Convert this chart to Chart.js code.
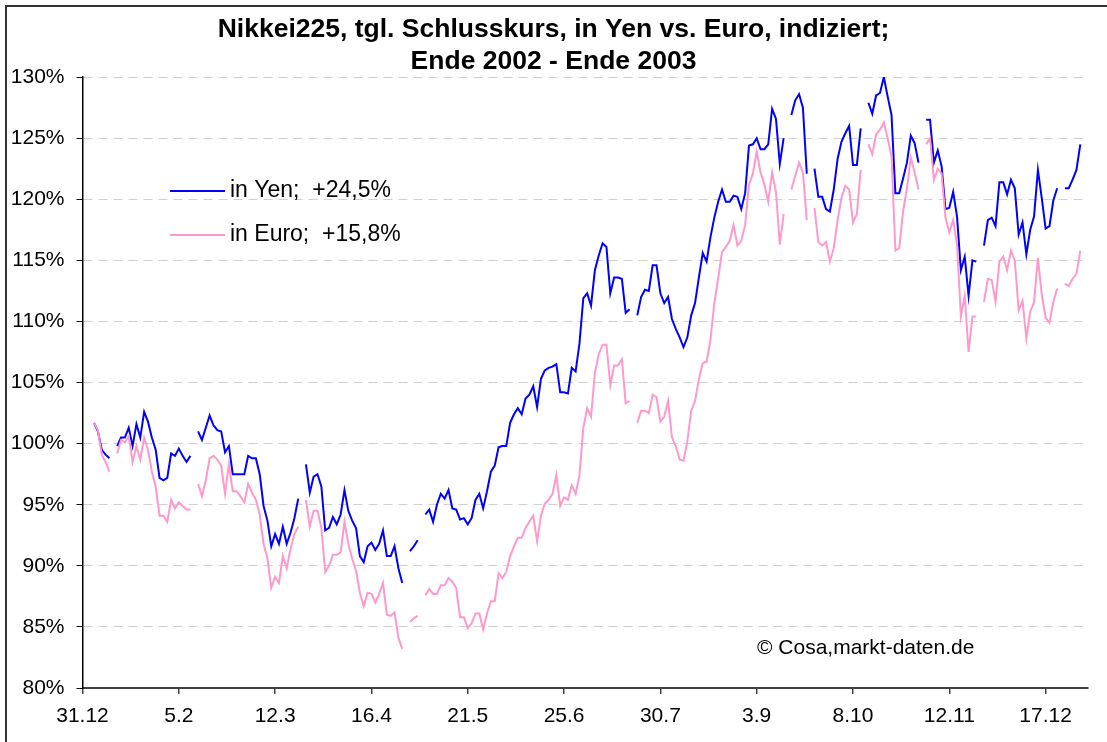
<!DOCTYPE html>
<html>
<head>
<meta charset="utf-8">
<title>Nikkei225 Yen vs. Euro</title>
<script src="https://cdn.jsdelivr.net/npm/chart.js@4.4.0/dist/chart.umd.min.js"></script>
<style>
  html, body { margin: 0; padding: 0; background: #fff; }
  canvas { display: block; }
</style>
</head>
<body>
<canvas id="nikkeiChart" width="1107" height="742"></canvas>
<script>
// x-axis: one category per trading-day slot (31.12.2002 = 0), label every 25 slots
const tickLabels = ['31.12', '5.2', '12.3', '16.4', '21.5', '25.6', '30.7', '3.9', '8.10', '12.11', '17.12'];
const tickStep = 25;
const slotCount = 261;

// Nikkei225 indexed, in Yen (null = no quote / holiday)
const yen = [
  null, null, null, 101.7, 101.0, 99.5, 99.1, 98.8, null, 99.8,
  100.5, 100.5, 101.3, 99.8, 101.6, 100.5, 102.6, 101.8, 100.5, 99.5,
  97.2, 97.0, 97.2, 99.2, 99.0, 99.6, 99.0, 98.5, 99.0, null,
  101.0, 100.3, 101.3, 102.3, 101.5, 101.1, 101.0, 99.3, 99.8, 97.5,
  97.5, 97.5, 97.5, 99.0, 98.8, 98.8, 97.5, 94.9, 93.7, 91.6,
  92.6, 91.8, 93.2, 91.8, 92.7, 93.9, 95.5, null, 98.3, 96.0,
  97.3, 97.5, 96.5, 92.9, 93.1, 94.0, 93.4, 94.2, 96.2, 94.5,
  93.7, 93.1, 90.8, 90.3, 91.6, 91.9, 91.3, 91.8, 92.9, 90.8,
  90.8, 91.6, 89.8, 88.6, null, 91.2, 91.6, 92.1, null, 94.2,
  94.6, 93.6, 95.0, 95.9, 95.5, 96.2, 94.7, 94.6, 93.8, 93.9,
  93.4, 93.9, 95.4, 95.9, 94.7, 96.1, 97.7, 98.2, 99.7, 99.8,
  99.8, 101.7, 102.4, 102.9, 102.4, 103.7, 104.0, 104.7, 103.0, 105.3,
  106.0, 106.2, 106.3, 106.5, 104.2, 104.2, 104.1, 106.2, 105.9, 108.2,
  111.9, 112.3, 111.3, 114.2, 115.4, 116.4, 116.1, 112.3, 113.6, 113.6,
  113.5, 110.7, 111.0, null, 110.5, 112.0, 112.6, 112.5, 114.6, 114.6,
  112.3, 111.5, 112.0, 110.2, 109.4, 108.7, 107.9, 108.7, 110.5, 111.5,
  113.6, 115.6, 114.9, 116.9, 118.5, 119.8, 120.8, 119.8, 119.8, 120.3,
  120.2, 119.2, 120.5, 124.4, 124.5, 125.0, 124.1, 124.1, 124.5, 127.4,
  126.6, 122.9, 125.0, null, 126.9, 128.1, 128.6, 127.5, 122.1, null,
  122.5, 120.2, 120.2, 119.2, 119.0, 120.8, 123.3, 124.7, 125.4, 126.0,
  122.8, 122.8, 125.8, null, 127.9, 127.0, 128.5, 128.7, 130.0, 128.4,
  126.9, 120.5, 120.5, 121.7, 123.0, 125.2, 124.6, 123.0, null, 126.5,
  126.5, 123.0, 124.0, 122.7, 119.2, 119.3, 120.6, 118.6, 114.2, 115.3,
  112.1, 115.0, 114.9, null, 116.2, 118.3, 118.5, 117.8, 121.4, 121.4,
  120.4, 121.6, 120.9, 117.1, 118.1, 115.5, 117.5, 118.6, 122.4, 120.1,
  117.6, 117.8, 119.9, 120.9, null, 120.9, 120.9, 121.6, 122.4, 124.5,
  null
];

// Nikkei225 indexed, in Euro
const euro = [
  null, null, null, 101.7, 101.1, 99.1, 98.5, 97.7, null, 99.2,
  100.3, 100.1, 100.6, 98.5, 99.8, 98.7, 100.5, 99.5, 97.7, 96.5,
  94.1, 94.1, 93.6, 95.4, 94.7, 95.2, 94.9, 94.6, 94.6, null,
  96.7, 95.7, 97.0, 98.8, 99.0, 98.7, 98.2, 95.9, 98.3, 96.1,
  96.1, 95.7, 95.2, 96.7, 96.0, 95.4, 94.2, 91.8, 90.6, 88.2,
  89.1, 88.6, 90.8, 89.8, 91.4, 92.6, 93.2, null, 95.4, 93.2,
  94.5, 94.5, 93.1, 89.5, 90.0, 90.9, 90.9, 91.1, 93.6, 91.8,
  90.6, 89.6, 87.8, 86.7, 87.8, 87.7, 87.0, 87.7, 88.6, 86.0,
  85.9, 86.2, 84.1, 83.2, null, 85.4, 85.7, 85.9, null, 87.6,
  88.1, 87.7, 87.7, 88.4, 88.4, 89.0, 88.7, 88.2, 85.8, 85.8,
  84.9, 85.3, 86.1, 86.1, 84.8, 86.1, 87.1, 87.1, 89.4, 89.0,
  89.5, 90.8, 91.6, 92.3, 92.3, 93.1, 93.6, 94.1, 92.0, 94.1,
  95.1, 95.4, 95.9, 97.4, 94.9, 95.6, 95.4, 96.6, 95.9, 97.4,
  101.3, 102.9, 102.2, 105.8, 107.3, 108.1, 108.1, 104.8, 106.4, 106.4,
  106.9, 103.3, 103.5, null, 101.7, 102.7, 102.7, 102.5, 104.0, 103.8,
  101.8, 102.2, 103.5, 100.5, 99.8, 98.7, 98.6, 100.2, 102.7, 103.5,
  105.3, 106.6, 106.7, 108.5, 111.5, 113.5, 115.7, 116.1, 116.6, 117.9,
  116.2, 116.6, 117.9, 121.2, 122.1, 123.9, 122.2, 121.2, 119.8, 122.2,
  120.6, 116.3, 118.8, null, 120.8, 121.9, 123.0, 122.2, 118.3, null,
  119.3, 116.5, 116.2, 116.5, 114.9, 116.0, 118.3, 120.1, 121.1, 120.8,
  118.1, 118.8, 122.4, null, 124.5, 123.7, 125.3, 125.7, 126.3, 125.0,
  123.5, 115.8, 116.0, 119.0, 120.9, 123.4, 122.2, 120.8, null, 124.5,
  125.0, 121.6, 122.5, 122.1, 118.5, 117.3, 118.3, 116.3, 110.4, 112.1,
  107.5, 110.4, 110.4, null, 111.6, 113.5, 113.4, 111.6, 114.9, 115.3,
  114.2, 115.8, 115.0, 110.9, 111.7, 108.6, 110.8, 111.6, 115.2, 112.2,
  110.3, 109.9, 111.6, 112.7, null, 113.1, 112.9, 113.5, 113.9, 115.8,
  null
];

const FONT = "'Liberation Sans', Arial, sans-serif";
Chart.defaults.font.family = FONT;
Chart.defaults.color = '#000';

// legend inside the plot, source note, outer frame
const overlay = {
  id: 'overlay',
  afterLayout(chart) {
    // centre the title on the whole canvas, not on the padded layout
    chart.titleBlock.left = 0;
    chart.titleBlock.right = chart.width;
  },
  afterDraw(chart) {
    const ctx = chart.ctx;
    ctx.save();
    ctx.strokeStyle = '#333';
    ctx.lineWidth = 2;
    ctx.beginPath();
    ctx.moveTo(6, chart.height);
    ctx.lineTo(6, 6);
    ctx.lineTo(chart.width, 6);
    ctx.stroke();

    ctx.textBaseline = 'middle';
    ctx.fillStyle = '#000';
    ctx.font = '23px ' + FONT;
    chart.data.datasets.forEach(function (ds, i) {
      const y = 191 + i * 44;
      ctx.strokeStyle = ds.borderColor;
      ctx.lineWidth = 2;
      ctx.beginPath();
      ctx.moveTo(170, y);
      ctx.lineTo(225, y);
      ctx.stroke();
      ctx.fillText(ds.label, 230, y);
    });
    ctx.font = '21px ' + FONT;
    ctx.fillText('\u00a9 Cosa,markt-daten.de', 757, 648);
    ctx.restore();
  }
};

const toPoints = arr => arr.map((v, i) => ({ x: i, y: v }));

new Chart(document.getElementById('nikkeiChart').getContext('2d'), {
  type: 'line',
  data: {
    datasets: [{
      label: 'in Yen;  +24,5%',
      data: toPoints(yen),
      borderColor: '#0000ff',
      borderWidth: 2,
      pointRadius: 0,
      order: 1
    }, {
      label: 'in Euro;  +15,8%',
      data: toPoints(euro),
      borderColor: '#ff99cc',
      borderWidth: 2,
      pointRadius: 0,
      order: 0
    }]
  },
  options: {
    responsive: false,
    animation: false,
    spanGaps: false,
    layout: { padding: { left: 0, right: 19, top: 0, bottom: 0 } },
    plugins: {
      legend: { display: false },
      tooltip: { enabled: false },
      title: {
        display: true,
        text: ['Nikkei225, tgl. Schlusskurs, in Yen vs. Euro, indiziert;', 'Ende 2002 - Ende 2003'],
        font: { size: 26.5, weight: 'bold', lineHeight: 1.2 },
        color: '#000',
        padding: { top: 13.5, bottom: 0 }
      }
    },
    scales: {
      x: {
        type: 'linear',
        min: 0,
        max: slotCount,
        afterFit: s => { s.height = 54; },
        grid: { drawOnChartArea: false, tickLength: 6, color: '#404040', lineWidth: 1.5 },
        border: { color: '#404040', width: 2 },
        ticks: {
          stepSize: tickStep,
          includeBounds: false,
          autoSkip: false,
          maxRotation: 0,
          padding: 10,
          font: { size: 21 },
          callback: v => tickLabels[v / tickStep] ?? ''
        }
      },
      y: {
        min: 80,
        max: 130,
        afterFit: s => { s.width = 82.5; },
        grid: { color: '#d0d0d0', lineWidth: 1, tickLength: 6, tickColor: '#000' },
        border: { color: '#000', width: 1.5, dash: [9, 6] },
        ticks: {
          stepSize: 5,
          padding: 12,
          font: { size: 21 },
          callback: v => v + '%'
        }
      }
    }
  },
  plugins: [overlay]
});
</script>
</body>
</html>
